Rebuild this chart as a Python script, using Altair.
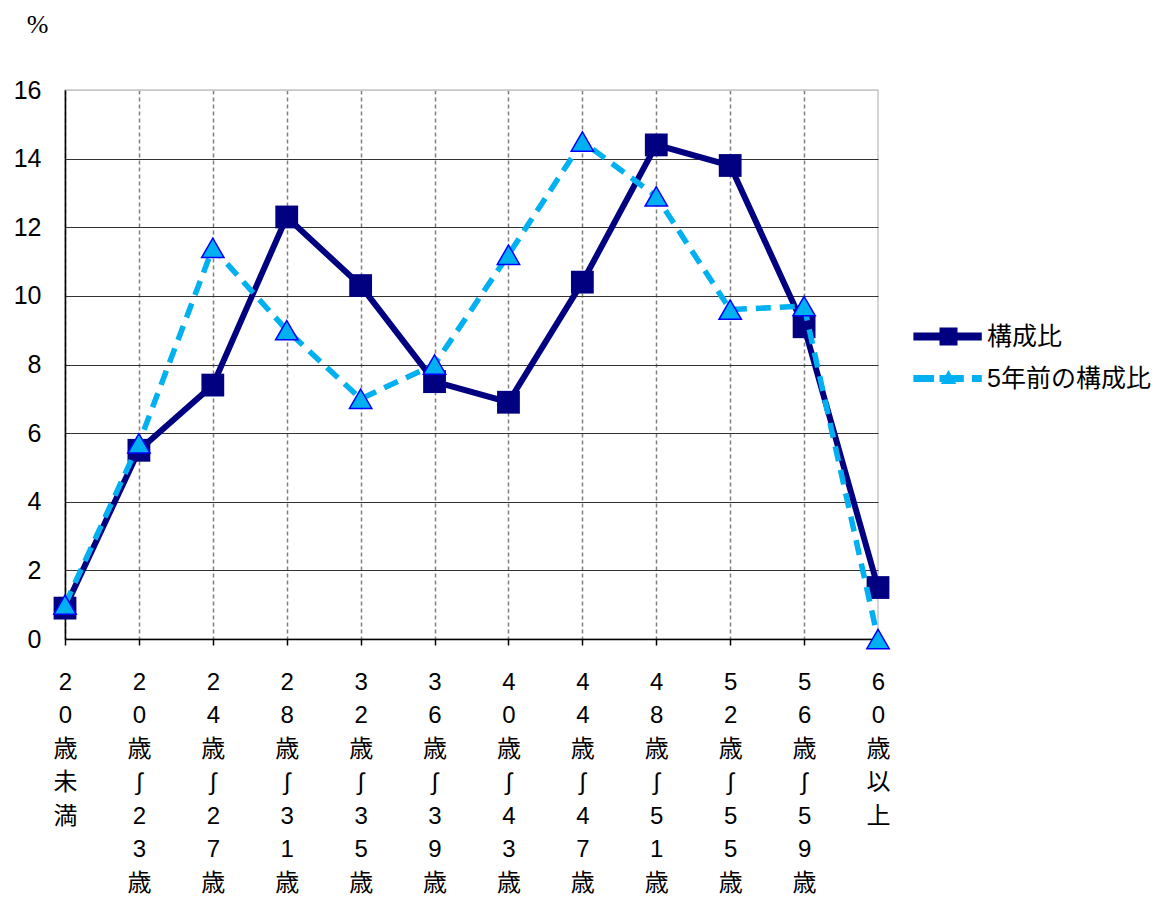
import altair as alt
import pandas as pd

# ---- data ----
categories = ["20歳未満", "20歳～23歳", "24歳～27歳", "28歳～31歳", "32歳～35歳", "36歳～39歳",
              "40歳～43歳", "44歳～47歳", "48歳～51歳", "52歳～55歳", "56歳～59歳", "60歳以上"]
series_names = ["構成比", "5年前の構成比"]
current = [0.9, 5.5, 7.4, 12.3, 10.3, 7.5, 6.9, 10.4, 14.4, 13.8, 9.1, 1.5]
five_years_ago = [1.0, 5.7, 11.4, 9.0, 7.0, 8.0, 11.2, 14.5, 12.9, 9.6, 9.7, 0.0]
y_ticks = [0, 2, 4, 6, 8, 10, 12, 14, 16]
y_unit = "%"

rows = []
for c, v in zip(categories, current):
    rows.append({"category": c, "series": series_names[0], "value": v})
for c, v in zip(categories, five_years_ago):
    rows.append({"category": c, "series": series_names[1], "value": v})
df = pd.DataFrame(rows)

NAVY = "#000080"
SKY = "#00B0F0"
TRI_STROKE = "#0000FF"
FONT = "'Liberation Sans', 'Noto Sans CJK JP', 'DejaVu Sans'"
XFONT = "'Liberation Sans', 'DejaVu Sans', 'Noto Sans CJK JP'"

# legend symbols: line + marker drawn as one custom path
solid_path = "M-3.9,-0.45H3.7V0.45H-3.9Z M-1,-1H1V1H-1Z"
dash_path = ("M-3.9,-0.4H-1.6V0.4H-3.9Z M-1.0,-0.4H1.7V0.4H-1.0Z M2.6,-0.4H3.7V0.4H2.6Z "
             "M0,-0.95L0.85,0.6H-0.85Z")

legend = alt.Legend(
    title=None, orient="none", legendX=846, legendY=234, padding=0,
    labelFont=FONT, labelFontSize=25, labelColor="black", labelLimit=400,
    symbolSize=324, symbolOffset=25, labelOffset=26, rowPadding=16,
    symbolOpacity=1, symbolStrokeWidth=0,
)

x_enc = alt.X(
    "category:N", sort=categories,
    scale=alt.Scale(type="point", padding=0),
    axis=alt.Axis(
        title=None, labelAngle=0,
        # vertical text: one character per line, the wave dash shown upright
        labelExpr="split(replace(datum.label, '～', '∫'), '')",
        labelFont=XFONT, labelFontSize=24, labelColor="black",
        labelLineHeight=33.5, labelBaseline="top", labelPadding=25,
        tickSize=6, tickColor="black", tickWidth=1.5,
        domainColor="black", domainWidth=1.5,
        grid=True, gridDash=[4, 3], gridColor="#808080", gridWidth=1.5,
        gridOpacity={"condition": {"test": f"datum.value === '{categories[-1]}'", "value": 0}, "value": 1},
    ),
)
y_enc = alt.Y(
    "value:Q",
    scale=alt.Scale(domain=[0, 16], nice=False),
    axis=alt.Axis(
        values=y_ticks, title=y_unit, titleAngle=0, titleX=-28, titleY=-66,
        titleAlign="center", titleBaseline="middle", titleFont="Liberation Serif",
        titleFontSize=26, titleFontWeight="normal", titleColor="black",
        labelFont=FONT, labelFontSize=25, labelColor="black", labelPadding=24,
        ticks=False, domainColor="black", domainWidth=1.5,
        grid=True, gridWidth=1,
        gridColor={"condition": {"test": "datum.value === 16", "value": "#c8c8c8"}, "value": "#333333"},
    ),
)

base = alt.Chart(df).encode(x=x_enc, y=y_enc)
cur = base.transform_filter(alt.datum.series == series_names[0])
old = base.transform_filter(alt.datum.series == series_names[1])

l1 = cur.mark_line(strokeWidth=6, color=NAVY)
p1 = cur.mark_point(shape="square", filled=True, size=520, fill=NAVY, opacity=1, strokeWidth=0)
l2 = old.mark_line(strokeWidth=5.5, strokeDash=[15, 9], color=SKY)
p2 = old.mark_point(shape="triangle-up", filled=True, size=500, fill=SKY, opacity=1,
                    stroke=TRI_STROKE, strokeWidth=1.5)

# legend-only layer (no rows drawn): colour + custom line/marker symbols per series
leg = base.transform_filter("false").mark_point(filled=True, size=324, opacity=1, strokeWidth=0).encode(
    color=alt.Color("series:N", scale=alt.Scale(domain=series_names, range=[NAVY, SKY]), legend=legend),
    shape=alt.Shape("series:N", scale=alt.Scale(domain=series_names, range=[solid_path, dash_path]), legend=legend),
)

chart = alt.layer(l1, p1, l2, p2, leg).properties(
    width=813, height=549,
    padding={"left": 57, "top": 82, "right": 280, "bottom": 262},
    autosize=alt.AutoSizeParams(type="none"),
).configure_view(stroke="#c8c8c8", strokeWidth=1.5)

chart.save("out.html", embed_options={"renderer": "svg", "actions": False})
